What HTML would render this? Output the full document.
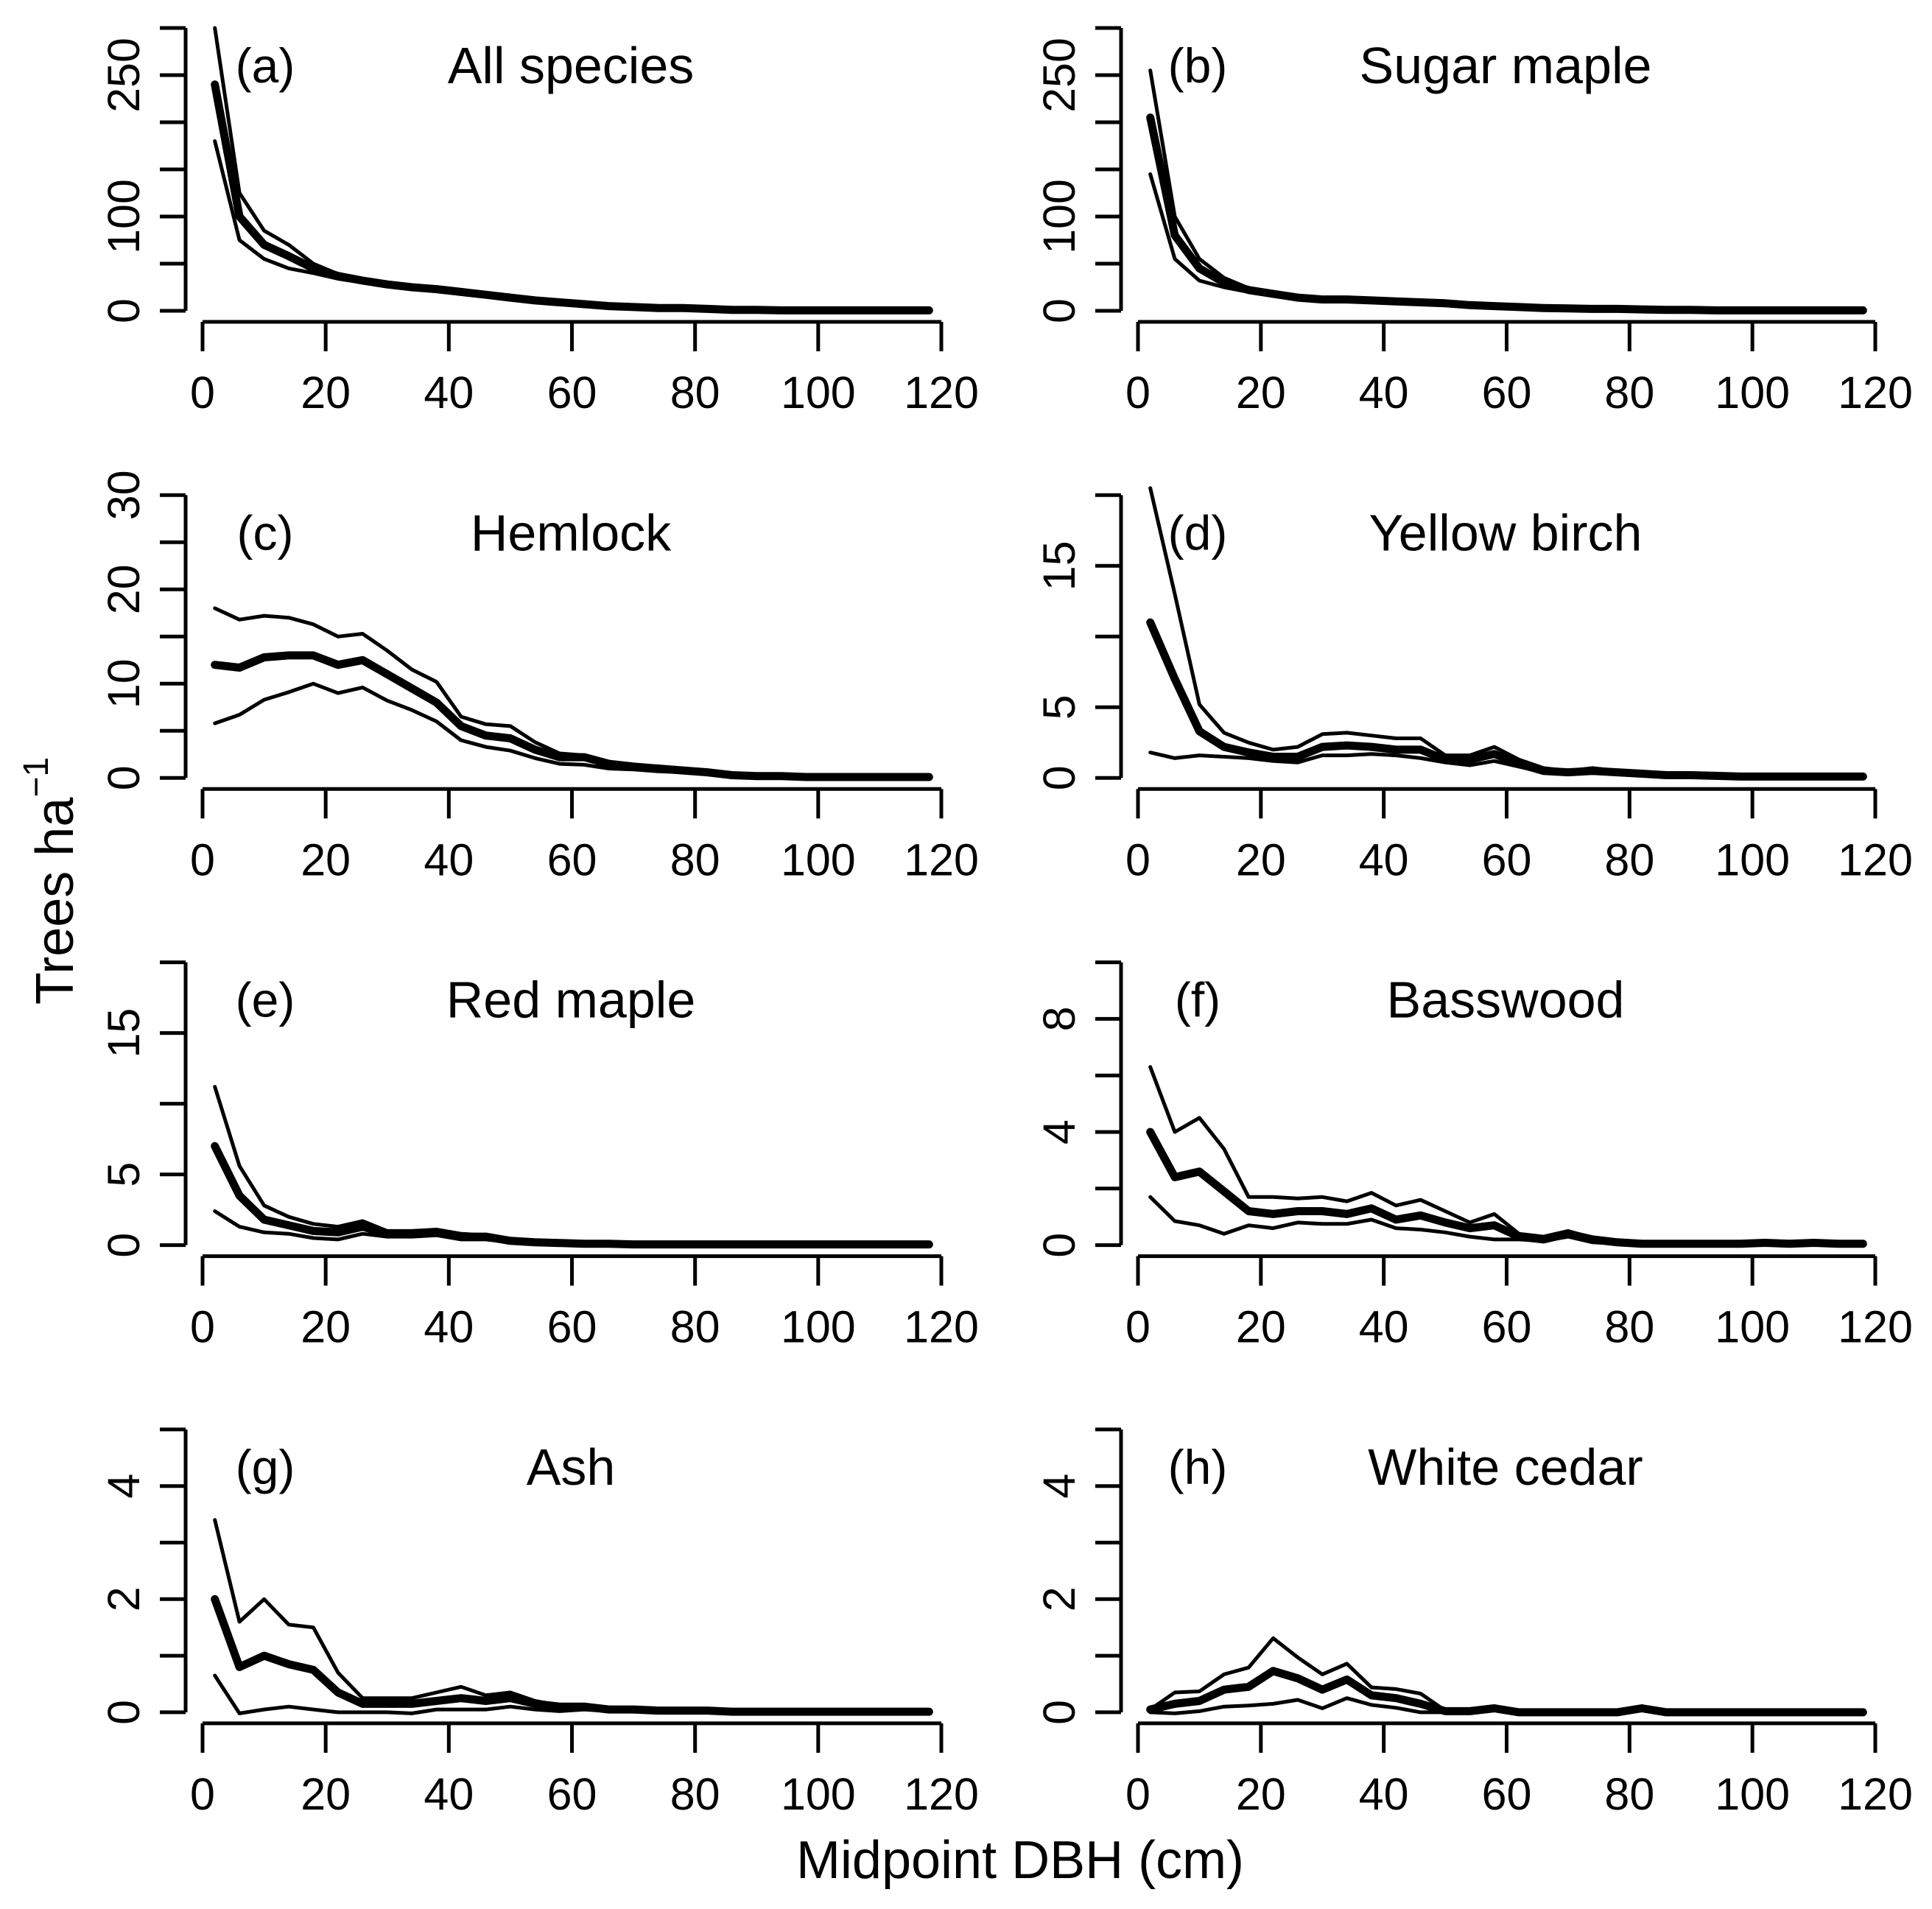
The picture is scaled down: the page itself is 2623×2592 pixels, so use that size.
<!DOCTYPE html>
<html><head><meta charset="utf-8"><style>
html,body{margin:0;padding:0;background:#fff}
svg{display:block;font-family:"Liberation Sans",Arial,sans-serif}
</style></head><body>
<svg id="chart" width="2623" height="2592" viewBox="0 0 2623 2592" xmlns="http://www.w3.org/2000/svg">
<text x="1385" y="2526" font-size="72" text-anchor="middle" dominant-baseline="central">Midpoint DBH (cm)</text>
<text transform="translate(75,1196) rotate(-90)" font-size="72" text-anchor="middle" dominant-baseline="central">Trees ha<tspan font-size="48" dy="-26">−1</tspan></text>
</svg>
<script>
const dbh = [2,6,10,14,18,22,26,30,34,38,42,46,50,54,58,62,66,70,74,78,82,86,90,94,98,102,106,110,114,118];
const xTicks = [0,20,40,60,80,100,120];
const panelLetters = ["(a)","(b)","(c)","(d)","(e)","(f)","(g)","(h)"];
const panelTitles = ["All species","Sugar maple","Hemlock","Yellow birch","Red maple","Basswood","Ash","White cedar"];
const yMax = [300,300,30,20,20,10,5,5];
const yStep = [50,50,5,5,5,2,1,1];
const yLabels = [[0,100,250],[0,100,250],[0,10,20,30],[0,5,15],[0,5,15],[0,4,8],[0,2,4],[0,2,4]];

const aMean = [240,100,70,58,45,37,32,28,25,23,20,17,14,11,9,7,5,4,3,3,2,1,1,0.5,0.5,0.5,0.5,0.5,0.5,0.5];
const aUp = [300,125,85,70,50,39,34,30,27,25,22,19,15,12,10,8,6,5,4,3.5,2.5,1.5,1.2,1,1,1,1,1,1,1];
const aLo = [180,75,55,45,40,34,30,26,23,21,18,15,12,10,8,6,4,3,2.5,2,1.5,0.8,0.5,0.2,0.2,0.2,0.2,0.2,0.2,0.2];
const bMean = [205,80,45,30,22,18,14,12,12,11,10,9,8,6,5,4,3,2.5,2,2,1.5,1,1,0.5,0.5,0.5,0.5,0.5,0.5,0.5];
const bUp = [255,100,55,35,24,19,15,13,13,12,11,10,9,7,6,5,4,3,2.5,2.5,2,1.5,1.2,1,1,1,1,1,1,1];
const bLo = [145,55,32,25,20,17,13,11,11,10,9,8,7,5,4,3,2,2,1.5,1.5,1,0.5,0.5,0.2,0.2,0.2,0.2,0.2,0.2,0.2];
const cMean = [12,11.7,12.8,13,13,12,12.5,11,9.5,8,5.5,4.5,4.2,3,2.2,2.2,1.5,1.2,1,0.8,0.6,0.3,0.2,0.2,0.1,0.1,0.1,0.1,0.1,0.1];
const cUp = [18,16.8,17.2,17,16.3,15,15.3,13.5,11.5,10.2,6.5,5.7,5.5,3.8,2.6,2.4,1.7,1.4,1.1,0.9,0.7,0.4,0.3,0.3,0.2,0.2,0.1,0.1,0.1,0.1];
const cLo = [5.8,6.7,8.3,9.1,10,9,9.6,8.2,7.2,6,4,3.3,2.9,2.1,1.5,1.4,1,0.9,0.7,0.6,0.5,0.2,0.1,0.1,0.05,0.05,0.05,0.05,0.05,0.05];
const dMean = [11,7,3.3,2.2,1.8,1.5,1.5,2.2,2.3,2.2,2,2,1.3,1.3,1.7,1,0.5,0.4,0.5,0.4,0.3,0.2,0.2,0.15,0.1,0.1,0.1,0.1,0.1,0.1];
const dUp = [20.5,13,5.2,3.2,2.5,2,2.2,3.1,3.2,3,2.8,2.8,1.6,1.6,2.2,1.3,0.7,0.5,0.7,0.5,0.4,0.3,0.3,0.2,0.15,0.15,0.15,0.15,0.15,0.15];
const dLo = [1.8,1.4,1.6,1.5,1.4,1.2,1.1,1.6,1.6,1.7,1.6,1.4,1.1,0.9,1.2,0.8,0.4,0.3,0.4,0.3,0.2,0.1,0.1,0.1,0.05,0.05,0.05,0.05,0.05,0.05];
const eMean = [7,3.5,1.8,1.4,1,0.9,1.3,0.8,0.8,0.9,0.6,0.6,0.3,0.2,0.15,0.1,0.1,0.05,0.05,0.05,0.05,0.05,0.05,0.05,0.05,0.05,0.05,0.05,0.05,0.05];
const eUp = [11.2,5.6,2.8,2,1.5,1.3,1.7,1,1,1.1,0.8,0.7,0.4,0.3,0.2,0.15,0.1,0.1,0.1,0.1,0.1,0.1,0.1,0.1,0.1,0.1,0.1,0.1,0.1,0.1];
const eLo = [2.4,1.3,0.9,0.8,0.5,0.4,0.8,0.6,0.6,0.7,0.4,0.4,0.2,0.1,0.1,0.05,0.02,0.02,0.02,0.02,0.02,0.02,0.02,0.02,0.02,0.02,0.02,0.02,0.02,0.02];
const fMean = [4,2.4,2.6,1.9,1.2,1.1,1.2,1.2,1.1,1.3,0.9,1.05,0.8,0.6,0.7,0.3,0.2,0.4,0.2,0.1,0.05,0.05,0.05,0.05,0.05,0.08,0.05,0.08,0.05,0.05];
const fUp = [6.3,4,4.5,3.4,1.7,1.7,1.65,1.7,1.55,1.85,1.4,1.6,1.2,0.8,1.1,0.4,0.3,0.5,0.25,0.15,0.1,0.1,0.1,0.1,0.1,0.12,0.1,0.12,0.1,0.1];
const fLo = [1.7,0.85,0.7,0.4,0.7,0.6,0.8,0.75,0.75,0.9,0.6,0.55,0.45,0.3,0.2,0.2,0.15,0.3,0.1,0.05,0.02,0.02,0.02,0.02,0.02,0.04,0.02,0.04,0.02,0.02];
const gMean = [2,0.8,1,0.85,0.75,0.35,0.15,0.15,0.15,0.2,0.25,0.2,0.25,0.15,0.1,0.1,0.05,0.05,0.03,0.03,0.03,0.01,0.01,0.01,0.01,0.01,0.01,0.01,0.01,0.01];
const gUp = [3.4,1.6,2,1.55,1.5,0.7,0.25,0.25,0.25,0.35,0.45,0.3,0.35,0.2,0.12,0.1,0.06,0.05,0.04,0.04,0.04,0.02,0.02,0.02,0.02,0.02,0.02,0.02,0.02,0.02];
const gLo = [0.65,-0.02,0.05,0.1,0.05,0,0,0,-0.02,0.05,0.05,0.05,0.1,0.05,0.02,0.05,0.02,0.02,0.01,0.01,0.01,0,0,0,0,0,0,0,0,0];
const hMean = [0.05,0.15,0.2,0.4,0.45,0.73,0.6,0.4,0.58,0.3,0.25,0.15,0.02,0.02,0.07,0,0,0,0,0,0.07,0,0,0,0,0,0,0,0,0];
const hUp = [0.05,0.35,0.37,0.67,0.79,1.31,0.97,0.67,0.86,0.44,0.41,0.33,0.03,0.02,0.07,0,0,0,0,0,0.07,0,0,0,0,0,0,0,0,0];
const hLo = [0,-0.02,0.02,0.1,0.12,0.15,0.22,0.07,0.25,0.13,0.08,0,0,0.01,0.06,0,0,0,0,0,0.06,0,0,0,0,0,0,0,0,0];

const seriesMean = [aMean,bMean,cMean,dMean,eMean,fMean,gMean,hMean];
const seriesUp = [aUp,bUp,cUp,dUp,eUp,fUp,gUp,hUp];
const seriesLo = [aLo,bLo,cLo,dLo,eLo,fLo,gLo,hLo];

const NS = "http://www.w3.org/2000/svg";
const svg = document.getElementById("chart");
function mk(tag, attrs, parent){const e=document.createElementNS(NS,tag);for(const k in attrs)e.setAttribute(k,attrs[k]);parent.appendChild(e);return e;}

for (let p=0;p<8;p++){
  const col=p%2,row=Math.floor(p/2);
  const x0 = col===0?275:1545, x1 = col===0?1278:2546, yAxisX = col===0?252:1522;
  const zeroY = 422+row*634.3, topY = zeroY-384;
  const sx = v => x0+(v/120)*(x1-x0);
  const sy = v => zeroY-(v/yMax[p])*(zeroY-topY);
  const g = mk("g",{},svg);
  
  
  const ya = mk("line",{x1:yAxisX,x2:yAxisX,y1:sy(0),y2:sy(yMax[p]),stroke:"#000","stroke-width":5},g);
  
  
  for (let v=0; v<=yMax[p]+1e-9; v+=yStep[p]){
    const t=mk("line",{x1:yAxisX-35,x2:yAxisX,y1:sy(v),y2:sy(v),stroke:"#000","stroke-width":5},g);
    
    
  }
  yLabels[p].forEach(v=>{
    const t=mk("text",{transform:`translate(${yAxisX-84},${sy(v)}) rotate(-90)`,"font-size":61,"text-anchor":"middle","dominant-baseline":"central"},g);
    t.textContent=v;
    
    
  });
  const axY=zeroY+15;
  const xa=mk("line",{x1:sx(0),x2:sx(120),y1:axY,y2:axY,stroke:"#000","stroke-width":5},g);
  
  
  xTicks.forEach(v=>{
    const t=mk("line",{x1:sx(v),x2:sx(v),y1:axY,y2:axY+40,stroke:"#000","stroke-width":5},g);
    
    
    const l=mk("text",{x:sx(v),y:zeroY+111,"font-size":61,"text-anchor":"middle","dominant-baseline":"central"},g);
    l.textContent=v;
    
    
  });
  const lt=mk("text",{x:col===0?360:1626,y:zeroY-333,"font-size":66,"text-anchor":"middle","dominant-baseline":"central"},g);
  lt.textContent=panelLetters[p];
  
  
  const tt=mk("text",{x:col===0?775:2044,y:zeroY-333,"font-size":70,"text-anchor":"middle","dominant-baseline":"central"},g);
  tt.textContent=panelTitles[p];
  
  
  const cp=mk("clipPath",{id:"cp"+p},g);
  mk("rect",{x:x0-40,y:topY-25,width:x1-x0+80,height:zeroY-topY+60},cp);
  const draw=(arr,w,name)=>{
    const pts=arr.map((v,i)=>sx(dbh[i]).toFixed(1)+","+sy(v).toFixed(1)).join(" ");
    const l=mk("polyline",{points:pts,fill:"none",stroke:"#000","stroke-width":w,"stroke-linejoin":"round","stroke-linecap":"round","clip-path":`url(#cp${p})`},g);
    
    
  };
  draw(seriesLo[p],5,'lower-bound-line');
  draw(seriesUp[p],5,'upper-bound-line');
  draw(seriesMean[p],11,'mean-line');
}
</script>
</body></html>
